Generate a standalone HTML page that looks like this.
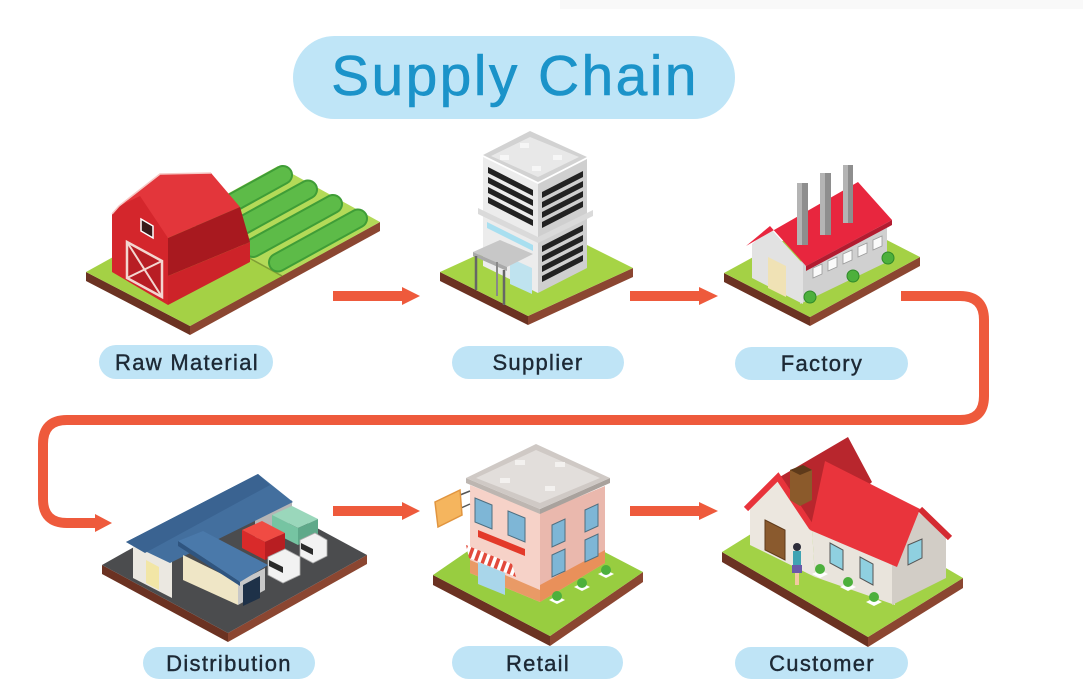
<!DOCTYPE html>
<html><head><meta charset="utf-8"><style>
html,body{margin:0;padding:0;background:#fff;}
svg{display:block}
.lbl{font-family:"Liberation Sans",sans-serif;font-size:22px;fill:#1d2935;letter-spacing:1.3px;text-anchor:middle;stroke:#1d2935;stroke-width:0.4}
</style></head><body>
<svg width="1083" height="694" viewBox="0 0 1083 694" xmlns="http://www.w3.org/2000/svg">
<defs>
<pattern id="aw" width="7" height="7" patternUnits="userSpaceOnUse" patternTransform="rotate(20)"><rect width="3.5" height="7" fill="#e24a3c"/><rect x="3.5" width="3.5" height="7" fill="#fff"/></pattern>
</defs>
<rect width="1083" height="694" fill="#fff"/>
<rect x="560" y="0" width="523" height="9" fill="#f9f9f9"/>

<!-- Title -->
<rect x="293" y="36" width="442" height="83" rx="41.5" fill="#bfe5f7"/>
<text x="515" y="95" text-anchor="middle" font-family="Liberation Sans, sans-serif" font-size="57" letter-spacing="2.4" fill="#1b93c9" stroke="#1b93c9" stroke-width="0.6">Supply Chain</text>

<!-- Connectors -->
<g fill="#ee5a3c">
<rect x="333" y="291" width="71" height="10"/><polygon points="402,287 420,296 402,305"/>
<rect x="630" y="291" width="71" height="10"/><polygon points="699,287 718,296 699,305"/>
<rect x="333" y="506" width="71" height="10"/><polygon points="402,502 420,511 402,520"/>
<rect x="630" y="506" width="71" height="10"/><polygon points="699,502 718,511 699,520"/>
<polygon points="95,514 112,523 95,532"/>
</g>
<path d="M901 296 H960 Q984 296 984 320 V396 Q984 420 960 420 H67 Q43 420 43 444 V499 Q43 523 67 523 H97" fill="none" stroke="#ee5a3c" stroke-width="10"/>

<!-- ===== Farm ===== -->
<polygon points="86,272 190,326 190,335 86,281" fill="#6b3222"/>
<polygon points="190,326 380,222 380,231 190,335" fill="#8b4631"/>
<polygon points="86,272 190,326 282,276 180,220" fill="#a4d145"/>
<polygon points="180,220 282,276 380,222 278,166" fill="#b3da58"/>
<line x1="180" y1="220" x2="282" y2="276" stroke="#7f9e35" stroke-width="1.5"/>
<g stroke-linecap="round" fill="none">
<line x1="203" y1="219" x2="283" y2="175" stroke="#3f9d37" stroke-width="20"/>
<line x1="203" y1="219" x2="283" y2="175" stroke="#5dbb48" stroke-width="16"/>
<line x1="228" y1="233.5" x2="308" y2="189.5" stroke="#3f9d37" stroke-width="20"/>
<line x1="228" y1="233.5" x2="308" y2="189.5" stroke="#5dbb48" stroke-width="16"/>
<line x1="253" y1="248" x2="333" y2="204" stroke="#3f9d37" stroke-width="20"/>
<line x1="253" y1="248" x2="333" y2="204" stroke="#5dbb48" stroke-width="16"/>
<line x1="278" y1="262.5" x2="358" y2="218.5" stroke="#3f9d37" stroke-width="20"/>
<line x1="278" y1="262.5" x2="358" y2="218.5" stroke="#5dbb48" stroke-width="16"/>
</g>
<!-- barn -->
<polygon points="112,272 112,214 119,206 140,195 162,214 168,238 168,305" fill="#d4262c"/>
<polygon points="119,206 160,174 211,173 240,207 168,238 140,196" fill="#e3363b"/>
<polyline points="112,214 119,206 160,174 211,173" fill="none" stroke="#f6c9c6" stroke-width="1.5"/>
<polygon points="168,238 240,207 250,242 168,276" fill="#a8191f"/>
<polygon points="168,276 250,242 250,262 168,305" fill="#cd2329"/>
<polygon points="127,242 162,261 162,297 127,278" fill="#b81d24" stroke="#f3d6d0" stroke-width="2.5"/>
<line x1="127" y1="242" x2="162" y2="297" stroke="#f3d6d0" stroke-width="2"/>
<line x1="162" y1="261" x2="127" y2="278" stroke="#f3d6d0" stroke-width="2"/>
<polygon points="141,219 153,226 153,238 141,231" fill="#3a1a1a" stroke="#fff" stroke-width="1.5"/>

<!-- ===== Supplier ===== -->
<polygon points="440,272 528,316 528,325 440,281" fill="#6b3222"/>
<polygon points="528,316 633,268 633,277 528,325" fill="#8b4631"/>
<polygon points="440,272 528,316 633,268 545,224" fill="#a6d445"/>
<polygon points="483,157 538,184 538,293 483,266" fill="#ececec"/>
<polygon points="538,184 587,159 587,268 538,293" fill="#cfcfcf"/>
<polygon points="483,155 530,131 587,157 538,182" fill="#d2d2d2"/>
<polygon points="491,156 530,137 579,157 538,177" fill="#e8e8e8"/>
<g fill="#f6f6f6"><rect x="520" y="143" width="9" height="5"/><rect x="500" y="155" width="9" height="5"/><rect x="553" y="155" width="9" height="5"/><rect x="532" y="166" width="9" height="5"/></g>
<g fill="#222">
<polygon points="488,167 533,190 533,196 488,173"/>
<polygon points="488,177 533,200 533,206 488,183"/>
<polygon points="488,187 533,210 533,216 488,193"/>
<polygon points="488,197 533,220 533,226 488,203"/>
<polygon points="542,192 583,171 583,177 542,198"/>
<polygon points="542,202 583,181 583,187 542,208"/>
<polygon points="542,212 583,191 583,197 542,218"/>
<polygon points="542,222 583,201 583,207 542,228"/>
<polygon points="542,246 583,225 583,231 542,252"/>
<polygon points="542,256 583,235 583,241 542,262"/>
<polygon points="542,266 583,245 583,251 542,272"/>
<polygon points="542,276 583,255 583,261 542,282"/>
</g>
<polygon points="478,208 538,237 593,210 593,216 538,243 478,214" fill="#dadada"/>
<polygon points="487,222 533,245 533,251 487,228" fill="#a8dff0"/>
<polygon points="510,258 532,268 532,294 510,284" fill="#bfe3ef"/>
<polygon points="473,252 500,240 533,254 507,267" fill="#c7c7c7"/>
<polygon points="473,252 507,267 507,271 473,256" fill="#a9a9a9"/>
<line x1="476" y1="256" x2="476" y2="290" stroke="#666" stroke-width="2.5"/>
<line x1="504" y1="270" x2="504" y2="305" stroke="#666" stroke-width="2.5"/>
<line x1="497" y1="262" x2="497" y2="296" stroke="#888" stroke-width="2"/>

<!-- ===== Factory ===== -->
<polygon points="724,273 810,317 810,326 724,282" fill="#6b3222"/>
<polygon points="810,317 920,257 920,266 810,326" fill="#8b4631"/>
<polygon points="724,273 810,317 920,257 834,213" fill="#a4d145"/>
<polygon points="800,262 887,224 887,262 800,304" fill="#d0d0d0"/>
<polygon points="752,278 752,244 770,228 803,264 803,304" fill="#e2e2e2"/>
<polygon points="768,257 786,266 786,297 768,288" fill="#f0e2b5"/>
<polygon points="746,246 858,182 892,220 806,266 770,226" fill="#e8263e"/>
<polygon points="806,266 892,220 892,225 806,271" fill="#b21c30"/>
<g>
<rect x="797" y="183" width="11" height="62" fill="#8e8e8e"/><rect x="797" y="183" width="5" height="62" fill="#b4b4b4"/>
<rect x="820" y="173" width="11" height="62" fill="#8e8e8e"/><rect x="820" y="173" width="5" height="62" fill="#b4b4b4"/>
<rect x="843" y="165" width="10" height="58" fill="#8e8e8e"/><rect x="843" y="165" width="5" height="58" fill="#b4b4b4"/>
</g>
<g fill="#fafafa" stroke="#9a9a9a" stroke-width="0.8">
<polygon points="813,268 822,264 822,274 813,278"/>
<polygon points="828,261 837,257 837,267 828,271"/>
<polygon points="843,254 852,250 852,260 843,264"/>
<polygon points="858,247 867,243 867,253 858,257"/>
<polygon points="873,240 882,236 882,246 873,250"/>
</g>
<g fill="#4db03c" stroke="#2f8a2a" stroke-width="1"><circle cx="810" cy="297" r="6"/><circle cx="853" cy="276" r="6"/><circle cx="888" cy="258" r="6"/></g>

<!-- ===== Distribution ===== -->
<polygon points="102,565 228,633 228,642 102,574" fill="#6b3222"/>
<polygon points="228,633 367,555 367,564 228,642" fill="#8b4631"/>
<polygon points="102,565 228,633 367,555 241,487" fill="#4b4c4e"/>
<polygon points="255,518 292,500 292,522 255,540" fill="#b5b5b5"/>
<polygon points="133,546 150,530 172,552 172,598 133,578" fill="#ebe8e1"/>
<polygon points="146,560 159,567 159,590 146,583" fill="#f2e6a6"/>
<polygon points="126,542 258,474 293,502 170,563" fill="#436f9e"/>
<polygon points="126,542 258,474 270,485 145,553" fill="#3a6391"/>
<polygon points="272,515 292,506 318,519 298,528" fill="#9ad7bb"/>
<polygon points="272,515 298,528 298,545 272,532" fill="#76c4a2"/>
<polygon points="298,528 318,519 318,536 298,545" fill="#5fa98a"/>
<polygon points="242,530 262,521 285,533 265,542" fill="#f04b43"/>
<polygon points="242,530 265,542 265,560 242,548" fill="#d92a2a"/>
<polygon points="265,542 285,533 285,550 265,560" fill="#b81e22"/>
<polygon points="300,540 315,533 327,540 327,556 313,563 300,556" fill="#f2f2f2" stroke="#aaa" stroke-width="0.8"/>
<polygon points="301,543 313,549 313,555 301,549" fill="#2b2b2b"/>
<polygon points="268,557 285,549 300,557 300,575 283,583 268,575" fill="#f2f2f2" stroke="#aaa" stroke-width="0.8"/>
<polygon points="269,560 283,567 283,573 269,566" fill="#2b2b2b"/>
<polygon points="183,555 238,582 238,605 183,580" fill="#efe6c6"/>
<polygon points="238,582 265,568 265,590 238,605" fill="#c8c8c8"/>
<polygon points="243,585 260,576 260,598 243,606" fill="#1e3148"/>
<polygon points="178,541 203,531 268,565 240,582" fill="#4a79aa"/>
<polygon points="178,541 240,582 240,586 178,546" fill="#2f5580"/>

<!-- ===== Retail ===== -->
<polygon points="433,575 550,636 550,646 433,585" fill="#6b3222"/>
<polygon points="550,636 643,572 643,582 550,646" fill="#8b4631"/>
<polygon points="433,575 550,636 643,572 526,511" fill="#98cd40"/>
<polygon points="470,485 540,513 540,602 470,573" fill="#f6d2c8"/>
<polygon points="540,513 605,486 605,563 540,602" fill="#eab8ad"/>
<polygon points="540,585 605,550 605,563 540,602" fill="#e9905a"/>
<polygon points="470,560 540,590 540,602 470,573" fill="#e99a66"/>
<polygon points="466,478 540,509 540,514 466,483" fill="#bdb6b1"/>
<polygon points="540,509 610,478 610,483 540,514" fill="#a9a29d"/>
<polygon points="536,444 610,478 540,509 466,478" fill="#cfc9c5"/>
<polygon points="536,450 600,478 540,503 476,478" fill="#e2dedb"/>
<g fill="#f3f1ef"><rect x="515" y="460" width="10" height="5"/><rect x="555" y="462" width="10" height="5"/><rect x="500" y="478" width="10" height="5"/><rect x="545" y="486" width="10" height="5"/></g>
<g fill="#7eb6d6" stroke="#4e6f80" stroke-width="1">
<polygon points="475,498 492,505 492,529 475,522"/>
<polygon points="508,511 525,518 525,542 508,535"/>
<polygon points="552,525 565,519 565,541 552,547"/>
<polygon points="585,510 598,504 598,526 585,532"/>
<polygon points="552,555 565,549 565,571 552,577"/>
<polygon points="585,540 598,534 598,556 585,562"/>
</g>
<polygon points="478,530 525,549 525,556 478,537" fill="#e33a2a"/>
<polygon points="478,562 505,573 505,595 478,584" fill="#a9d6ea"/>
<polygon points="466,545 512,564 516,577 469,558" fill="url(#aw)"/>
<line x1="460" y1="495" x2="470" y2="491" stroke="#555" stroke-width="1.5"/>
<line x1="461" y1="508" x2="470" y2="504" stroke="#555" stroke-width="1.5"/>
<polygon points="435,502 460,490 462,515 438,527" fill="#f5b55e" stroke="#e1953f" stroke-width="1.5"/>
<g><polygon points="549,600 557,596 565,600 557,604" fill="#fff"/><circle cx="557" cy="596" r="5" fill="#4db03c"/>
<polygon points="574,587 582,583 590,587 582,591" fill="#fff"/><circle cx="582" cy="583" r="5" fill="#4db03c"/>
<polygon points="598,574 606,570 614,574 606,578" fill="#fff"/><circle cx="606" cy="570" r="5" fill="#4db03c"/></g>

<!-- ===== House ===== -->
<polygon points="722,552 868,637 868,647 722,562" fill="#6b3222"/>
<polygon points="868,637 963,578 963,588 868,647" fill="#8b4631"/>
<polygon points="722,552 868,637 963,578 817,493" fill="#a2d246"/>
<polygon points="778,478 848,437 872,482 815,535 800,510" fill="#b8262d"/>
<polygon points="750,545 750,507 778,480 812,530 815,577" fill="#ece7df"/>
<polyline points="746,509 778,477 812,528" fill="none" stroke="#e8333b" stroke-width="6"/>
<polygon points="765,520 785,530 785,560 765,550" fill="#8a5a2e" stroke="#5e3a1a" stroke-width="1"/>
<polygon points="812,530 895,565 895,605 815,577" fill="#e9e4dc"/>
<g fill="#8fd0e0" stroke="#555" stroke-width="1">
<polygon points="830,543 843,550 843,570 830,563"/>
<polygon points="860,557 873,564 873,585 860,578"/>
</g>
<polygon points="892,563 918,512 946,536 946,578 892,605" fill="#d2cdc6"/>
<polygon points="908,545 922,539 922,558 908,565" fill="#8fd0e0" stroke="#555" stroke-width="1"/>
<polygon points="825,461 920,509 897,567 810,530" fill="#e9343c"/>
<line x1="920" y1="509" x2="950" y2="538" stroke="#d42a31" stroke-width="6"/>
<polygon points="790,470 803,465 812,470 812,500 800,506 790,500" fill="#8b5a2b"/>
<polygon points="790,470 803,465 812,470 800,475" fill="#5e3a1a"/>
<circle cx="797" cy="547" r="4" fill="#2d2d3a"/>
<rect x="793" y="551" width="8" height="14" fill="#3fa3b3"/>
<rect x="792" y="565" width="10" height="8" fill="#6a5aa8"/>
<rect x="795" y="573" width="4" height="12" fill="#f3c9a0"/>
<g><polygon points="812,574 820,570 828,574 820,578" fill="#fff"/><circle cx="820" cy="569" r="5" fill="#4db03c"/>
<polygon points="840,587 848,583 856,587 848,591" fill="#fff"/><circle cx="848" cy="582" r="5" fill="#4db03c"/>
<polygon points="866,602 874,598 882,602 874,606" fill="#fff"/><circle cx="874" cy="597" r="5" fill="#4db03c"/></g>

<!-- Labels -->
<g fill="#bfe4f6">
<rect x="99" y="345" width="174" height="34" rx="17"/>
<rect x="452" y="346" width="172" height="33" rx="16.5"/>
<rect x="735" y="347" width="173" height="33" rx="16.5"/>
<rect x="143" y="647" width="172" height="32" rx="16"/>
<rect x="452" y="646" width="171" height="33" rx="16.5"/>
<rect x="735" y="647" width="173" height="32" rx="16"/>
</g>
<text class="lbl" x="187" y="370">Raw Material</text>
<text class="lbl" x="538" y="370">Supplier</text>
<text class="lbl" x="822" y="371">Factory</text>
<text class="lbl" x="229" y="671">Distribution</text>
<text class="lbl" x="538" y="671">Retail</text>
<text class="lbl" x="822" y="671">Customer</text>
</svg>
</body></html>
